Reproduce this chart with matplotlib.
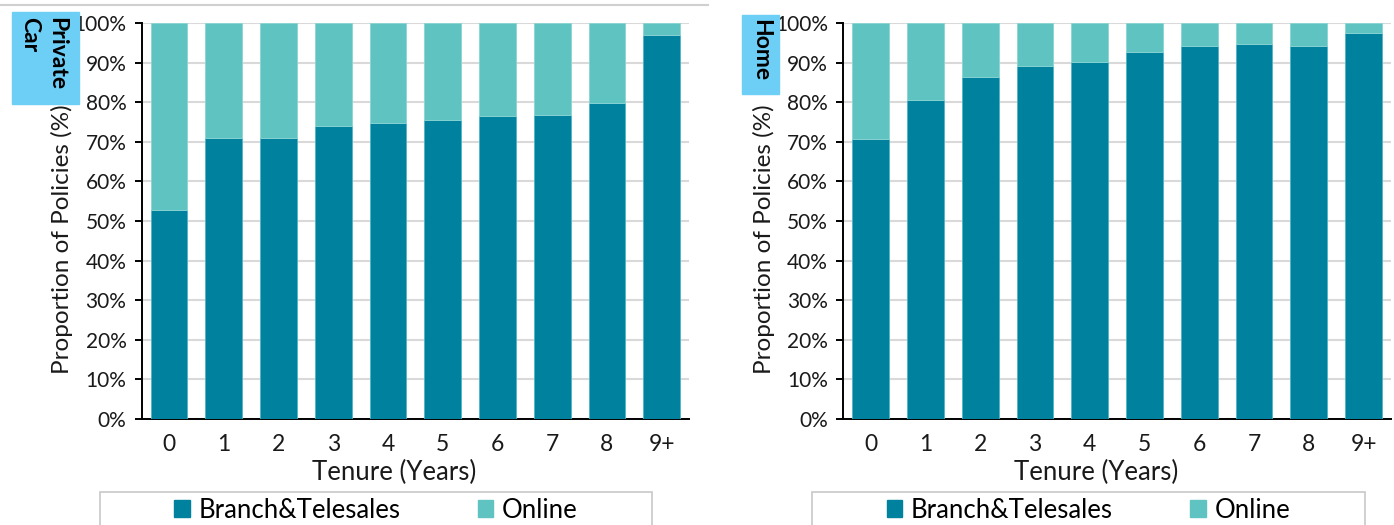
import matplotlib
matplotlib.use("Agg")
import numpy as np
import matplotlib.pyplot as plt
from matplotlib.patches import Rectangle, Patch
from matplotlib.ticker import PercentFormatter

plt.rcParams['font.family'] = ['Lato', 'DejaVu Sans']

tenure = ['0', '1', '2', '3', '4', '5', '6', '7', '8', '9+']
car_branch = [52.8, 71.0, 71.0, 73.9, 74.8, 75.6, 76.5, 76.8, 79.7, 97.0]
home_branch = [70.8, 80.6, 86.3, 89.1, 90.1, 92.6, 94.1, 94.7, 94.1, 97.5]
car_online = [100 - v for v in car_branch]
home_online = [100 - v for v in home_branch]

dark = '#00829F'
light = '#5FC4C1'
box_col = '#6DCFF6'

fig = plt.figure(figsize=(13.94, 5.25), dpi=100)
W, H = 1394, 525

def px(x0, y0, x1, y1):
    # pixel box -> figure fraction [left, bottom, width, height]
    return [x0 / W, 1 - y1 / H, (x1 - x0) / W, (y1 - y0) / H]

ax1 = fig.add_axes(px(141.7, 23, 689, 419))
ax2 = fig.add_axes(px(843.3, 23, 1391, 419))

def draw(ax, branch, online):
    x = np.arange(len(tenure))
    ax.bar(x, branch, width=0.67, color=dark, edgecolor='#4FB3C6', linewidth=0.6, zorder=3)
    ax.bar(x, online, bottom=branch, width=0.67, color=light, edgecolor='#8AD6D3', linewidth=0.6, zorder=3)
    ax.set_xlim(-0.5, len(tenure) - 0.5)
    ax.set_ylim(0, 100)
    ax.set_yticks(np.arange(0, 101, 10))
    ax.yaxis.set_major_formatter(PercentFormatter(decimals=0))
    ax.set_xticks(x)
    ax.set_xticklabels(tenure)
    ax.grid(axis='y', color='#D9D9D9', linewidth=1.5, zorder=0)
    ax.set_axisbelow(True)
    for s in ['top', 'right']:
        ax.spines[s].set_visible(False)
    ax.spines['left'].set_linewidth(1.4)
    ax.spines['bottom'].set_linewidth(1.4)
    ax.tick_params(axis='y', length=5, width=1.4, pad=6, labelsize=15, labelcolor='#1a1a1a')
    ax.tick_params(axis='x', length=0, pad=11, labelsize=16.5, labelcolor='#1a1a1a')
    ax.set_ylabel('Proportion of Policies (%)', fontsize=17.5, color='#1a1a1a')
    ax.set_xlabel('Tenure (Years)', fontsize=18.5, color='#1a1a1a')
    ax.yaxis.set_label_coords(-0.125, 0.455)
    ax.xaxis.set_label_coords(0.461, -0.103)

draw(ax1, car_branch, car_online)
draw(ax2, home_branch, home_online)

# label boxes
fig.patches.append(Rectangle((12 / W, 1 - 104 / H), 67 / W, 92 / H,
                             transform=fig.transFigure, color=box_col, zorder=5))
fig.text(43 / W, 1 - 17 / H, 'Private\nCar', rotation=-90, ha='center', va='top',
         fontsize=16.5, fontweight='bold', multialignment='left', zorder=6,
         linespacing=1.35)
fig.patches.append(Rectangle((742 / W, 1 - 94 / H), 37 / W, 79 / H,
                             transform=fig.transFigure, color=box_col, zorder=5))
fig.text(761 / W, 1 - 19 / H, 'Home', rotation=-90, ha='center', va='top',
         fontsize=16.5, fontweight='bold', zorder=6)

# top separator line
fig.add_artist(plt.Line2D([0, 708 / W], [1 - 5 / H, 1 - 5 / H], transform=fig.transFigure,
                          color='#D0D0D0', linewidth=1.5))

# legends with separate frames
handles = [Patch(color=dark, label='Branch&Telesales'), Patch(color=light, label='Online')]
for (x0, x1) in [(100, 652), (812, 1365)]:
    fig.patches.append(Rectangle((x0 / W, -0.05), (x1 - x0) / W, 1 - 492 / H + 0.05,
                                 transform=fig.transFigure, facecolor='white',
                                 edgecolor='#C8C8C8', linewidth=1.2))
    fig.legend(handles=handles, loc='center', bbox_to_anchor=((x0 + x1) / 2 / W, 1 - 510 / H),
               ncol=2, frameon=False, fontsize=18.5, handlelength=0.6, handleheight=0.6,
               handletextpad=0.35, columnspacing=3.0, borderpad=0)

fig.savefig('out.png', dpi=100)
